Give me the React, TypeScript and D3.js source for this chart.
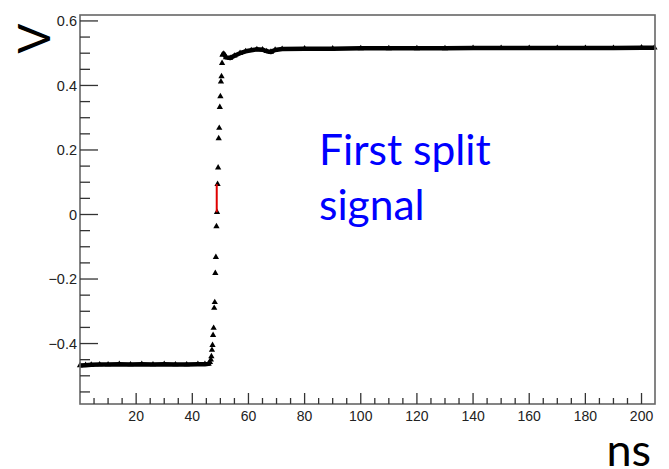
import React from "react";
import * as d3 from "d3";

// Waveform samples (time in ns, amplitude in V)
const baselineT = [0, 2, 4, 7, 10, 14, 18, 22, 26, 30, 34, 38, 42, 44.5, 45.8, 46.3];
const baselineV = [-0.468, -0.467, -0.466, -0.465, -0.465, -0.464, -0.465, -0.464, -0.465, -0.464, -0.465, -0.465, -0.464, -0.464, -0.463, -0.458];

const edgeT = [46.6, 46.8, 47.0, 47.2, 47.4, 47.6, 47.8, 48.0, 48.2, 48.4, 48.6, 48.8, 49.0, 49.2, 49.4, 49.6, 49.8, 50.0, 50.2, 50.4, 50.6, 50.8];
const edgeV = [-0.450, -0.440, -0.420, -0.405, -0.374, -0.352, -0.290, -0.272, -0.182, -0.132, -0.037, 0.007, 0.094, 0.145, 0.236, 0.268, 0.333, 0.366, 0.412, 0.428, 0.469, 0.495];

const topT = [50.8, 51.2, 52, 53.5, 55, 57, 59, 61, 63, 65, 66.5, 68, 69.5, 72, 80, 90, 100, 110, 120, 130, 140, 150, 160, 170, 180, 190, 200, 204.6];
const topV = [0.495, 0.498, 0.487, 0.485, 0.492, 0.500, 0.506, 0.509, 0.512, 0.511, 0.506, 0.504, 0.510, 0.513, 0.514, 0.514, 0.515, 0.515, 0.515, 0.515, 0.516, 0.516, 0.516, 0.516, 0.516, 0.516, 0.517, 0.517];

// Highlighted crossing segment
const crossT = [48.7, 48.7];
const crossV = [0.007, 0.094];

const xMajor = [20, 40, 60, 80, 100, 120, 140, 160, 180, 200];
const yMajor = [-0.4, -0.2, 0, 0.2, 0.4, 0.6];
const yLabels = ["\u22120.4", "\u22120.2", "0", "0.2", "0.4", "0.6"];

const W = 669;
const H = 469;
const left = 80;
const right = 655;
const top = 15;
const bottom = 404;

export default function App() {
  const x = d3.scaleLinear().domain([0, 204.8]).range([left, right]);
  const y = d3.scaleLinear().domain([-0.5874, 0.6184]).range([bottom, top]);

  const xMinor = d3.range(5, 205, 5).filter((v) => v % 20 !== 0);
  const yMinor = d3.range(-55, 61, 5).map((v) => v / 100).filter((v) => Math.abs(Math.round(v * 100) % 20) !== 0);

  const line = d3
    .line<[number, number]>()
    .x((d) => x(d[0]))
    .y((d) => y(d[1]));

  const base = baselineT.map((t, i) => [t, baselineV[i]] as [number, number]);
  const edge = edgeT.map((t, i) => [t, edgeV[i]] as [number, number]);
  const topPts = topT.map((t, i) => [t, topV[i]] as [number, number]);
  const cross = crossT.map((t, i) => [t, crossV[i]] as [number, number]);

  const marker = d3.symbol().type(d3.symbolTriangle).size(17)() as string;

  const labelFont = "'Liberation Sans', Arial, Helvetica, sans-serif";
  const titleFont = "Lato, 'Open Sans', sans-serif";

  return (
    <svg
      width={W}
      height={H}
      style={{ position: "absolute", left: 0, top: 0, background: "#fff" }}
    >
      <rect x={0} y={0} width={W} height={H} fill="#fff" />

      {/* data traces */}
      <path d={line(base) ?? ""} fill="none" stroke="#000" strokeWidth={4.5} strokeLinejoin="round" />
      <path d={line(topPts) ?? ""} fill="none" stroke="#000" strokeWidth={4.5} strokeLinejoin="round" />
      {[...base, ...topPts].map((d, i) => (
        <path key={"m" + i} d={marker} transform={`translate(${x(d[0])},${y(d[1])})`} fill="#000" />
      ))}
      {edge.map((d, i) => (
        <path key={"e" + i} d={marker} transform={`translate(${x(d[0])},${y(d[1])})`} fill="#000" />
      ))}
      <path d={line(cross) ?? ""} fill="none" stroke="#e00000" strokeWidth={2} />

      {/* frame */}
      <rect x={left} y={top} width={right - left} height={bottom - top} fill="none" stroke="#666" strokeWidth={1.6} />

      {/* y axis ticks */}
      {yMajor.map((v, i) => (
        <g key={"ym" + i}>
          <line x1={left} x2={left + 18} y1={y(v)} y2={y(v)} stroke="#333" strokeWidth={1.3} />
          <text
            x={left - 3}
            y={y(v)}
            dy="0.36em"
            textAnchor="end"
            fontFamily={labelFont}
            fontSize={14.5}
            fill="#222"
          >
            {yLabels[i]}
          </text>
        </g>
      ))}
      {yMinor.map((v, i) => (
        <line key={"yn" + i} x1={left} x2={left + 10} y1={y(v)} y2={y(v)} stroke="#333" strokeWidth={1.3} />
      ))}

      {/* x axis ticks */}
      {xMajor.map((v, i) => (
        <g key={"xm" + i}>
          <line x1={x(v)} x2={x(v)} y1={bottom} y2={bottom - 11} stroke="#333" strokeWidth={1.3} />
          <text
            x={x(v)}
            y={421}
            textAnchor="middle"
            fontFamily={labelFont}
            fontSize={14}
            fill="#222"
          >
            {String(v)}
          </text>
        </g>
      ))}
      {xMinor.map((v, i) => (
        <line key={"xn" + i} x1={x(v)} x2={x(v)} y1={bottom} y2={bottom - 6} stroke="#333" strokeWidth={1.3} />
      ))}

      {/* axis titles */}
      <text
        transform="translate(50,38.5) rotate(-90)"
        textAnchor="middle"
        fontFamily={titleFont}
        fontSize={44}
        fill="#000"
      >
        V
      </text>
      <text x={651} y={466} textAnchor="end" fontFamily={titleFont} fontSize={45} fill="#000">
        ns
      </text>

      {/* annotation */}
      <text fontFamily={titleFont} fontSize={42.5} fill="#0000ff">
        <tspan x={319} y={165}>First split</tspan>
        <tspan x={319} y={220}>signal</tspan>
      </text>
    </svg>
  );
}
